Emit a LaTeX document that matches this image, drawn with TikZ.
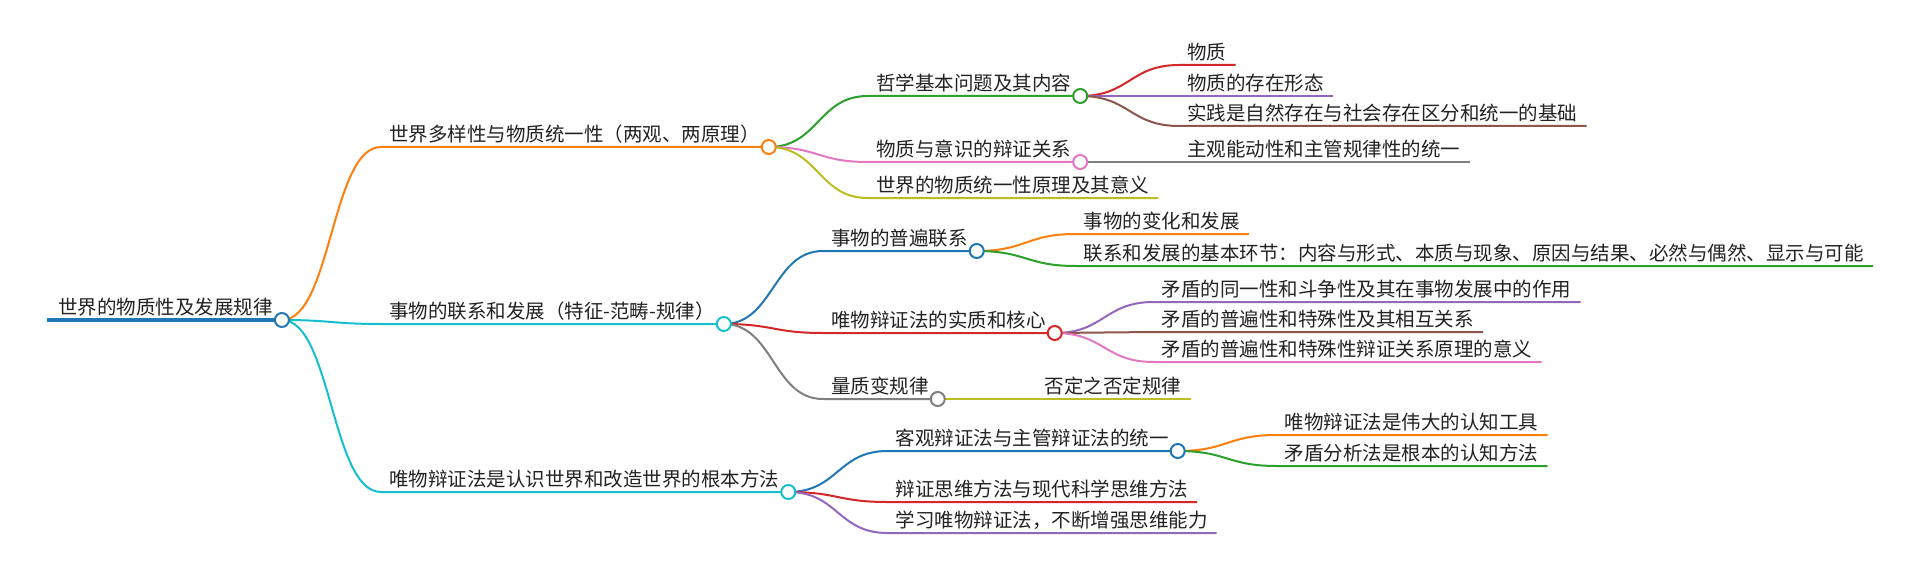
\documentclass[tikz,border=0pt]{standalone}
\usepackage{fontspec}
\setmainfont{Noto Sans CJK SC}
\usepackage{xcolor}
\usetikzlibrary{calc}
\definecolor{mmBlue}{HTML}{1F77B4}
\definecolor{mmOrange}{HTML}{FF7F0E}
\definecolor{mmGreen}{HTML}{2CA02C}
\definecolor{mmRed}{HTML}{D62728}
\definecolor{mmPurple}{HTML}{9467BD}
\definecolor{mmBrown}{HTML}{8C564B}
\definecolor{mmPink}{HTML}{E377C2}
\definecolor{mmGray}{HTML}{7F7F7F}
\definecolor{mmOlive}{HTML}{BCBD22}
\definecolor{mmCyan}{HTML}{17BECF}
\definecolor{mmText}{HTML}{222222}
\tikzset{
  branch/.style={draw=#1, line width=2pt},
  trunk/.style={draw=#1, line width=4.5pt},
  topic/.style={anchor=base west, inner sep=0pt, text=mmText,
    font=\fontsize{19.5}{22}\selectfont},
  knob/.style={circle, draw=#1, fill=white, line width=2pt,
    minimum size=14pt, inner sep=0pt}
}

\begin{document}
\begin{tikzpicture}[x=1pt, y=-1pt]
  \useasboundingbox (0,0) rectangle (1920,575);

  \coordinate (a0) at (47,320);
  \node[topic] (t0) at (58,314.5) {世界的物质性及发展规律};
  \coordinate (p0) at ($(t0.base east |- a0)+(9,0)$);

  \coordinate (a1) at ($(p0 |- 0,147)+(99,0)$);
  \node[topic] (t1) at ($(a1)+(8,-5.5)$) {世界多样性与物质统一性（两观、两原理）};
  \coordinate (p1) at ($(t1.base east |- a1)+(9,0)$);

  \coordinate (a2) at ($(p1 |- 0,96)+(99,0)$);
  \node[topic] (t2) at ($(a2)+(8,-5.5)$) {哲学基本问题及其内容};
  \coordinate (p2) at ($(t2.base east |- a2)+(9,0)$);

  \coordinate (a3) at ($(p2 |- 0,65)+(99,0)$);
  \node[topic] (t3) at ($(a3)+(8,-5.5)$) {物质};
  \coordinate (p3) at ($(t3.base east |- a3)+(9,0)$);

  \coordinate (a4) at ($(p2 |- 0,96)+(99,0)$);
  \node[topic] (t4) at ($(a4)+(8,-5.5)$) {物质的存在形态};
  \coordinate (p4) at ($(t4.base east |- a4)+(9,0)$);

  \coordinate (a5) at ($(p2 |- 0,126)+(99,0)$);
  \node[topic] (t5) at ($(a5)+(8,-5.5)$) {实践是自然存在与社会存在区分和统一的基础};
  \coordinate (p5) at ($(t5.base east |- a5)+(9,0)$);

  \coordinate (a6) at ($(p1 |- 0,162)+(99,0)$);
  \node[topic] (t6) at ($(a6)+(8,-5.5)$) {物质与意识的辩证关系};
  \coordinate (p6) at ($(t6.base east |- a6)+(9,0)$);

  \coordinate (a7) at ($(p6 |- 0,162)+(99,0)$);
  \node[topic] (t7) at ($(a7)+(8,-5.5)$) {主观能动性和主管规律性的统一};
  \coordinate (p7) at ($(t7.base east |- a7)+(9,0)$);

  \coordinate (a8) at ($(p1 |- 0,198)+(99,0)$);
  \node[topic] (t8) at ($(a8)+(8,-5.5)$) {世界的物质统一性原理及其意义};
  \coordinate (p8) at ($(t8.base east |- a8)+(9,0)$);

  \coordinate (a9) at ($(p0 |- 0,324)+(99,0)$);
  \node[topic] (t9) at ($(a9)+(8,-5.5)$) {事物的联系和发展（特征-范畴-规律）};
  \coordinate (p9) at ($(t9.base east |- a9)+(9,0)$);

  \coordinate (a10) at ($(p9 |- 0,251)+(99,0)$);
  \node[topic] (t10) at ($(a10)+(8,-5.5)$) {事物的普遍联系};
  \coordinate (p10) at ($(t10.base east |- a10)+(9,0)$);

  \coordinate (a11) at ($(p10 |- 0,234)+(99,0)$);
  \node[topic] (t11) at ($(a11)+(8,-5.5)$) {事物的变化和发展};
  \coordinate (p11) at ($(t11.base east |- a11)+(9,0)$);

  \coordinate (a12) at ($(p10 |- 0,266)+(99,0)$);
  \node[topic] (t12) at ($(a12)+(8,-5.5)$) {联系和发展的基本环节：内容与形式、本质与现象、原因与结果、必然与偶然、显示与可能};
  \coordinate (p12) at ($(t12.base east |- a12)+(9,0)$);

  \coordinate (a13) at ($(p9 |- 0,333)+(99,0)$);
  \node[topic] (t13) at ($(a13)+(8,-5.5)$) {唯物辩证法的实质和核心};
  \coordinate (p13) at ($(t13.base east |- a13)+(9,0)$);

  \coordinate (a14) at ($(p13 |- 0,302)+(99,0)$);
  \node[topic] (t14) at ($(a14)+(8,-5.5)$) {矛盾的同一性和斗争性及其在事物发展中的作用};
  \coordinate (p14) at ($(t14.base east |- a14)+(9,0)$);

  \coordinate (a15) at ($(p13 |- 0,332)+(99,0)$);
  \node[topic] (t15) at ($(a15)+(8,-5.5)$) {矛盾的普遍性和特殊性及其相互关系};
  \coordinate (p15) at ($(t15.base east |- a15)+(9,0)$);

  \coordinate (a16) at ($(p13 |- 0,362)+(99,0)$);
  \node[topic] (t16) at ($(a16)+(8,-5.5)$) {矛盾的普遍性和特殊性辩证关系原理的意义};
  \coordinate (p16) at ($(t16.base east |- a16)+(9,0)$);

  \coordinate (a17) at ($(p9 |- 0,399)+(99,0)$);
  \node[topic] (t17) at ($(a17)+(8,-5.5)$) {量质变规律};
  \coordinate (p17) at ($(t17.base east |- a17)+(9,0)$);

  \coordinate (a18) at ($(p17 |- 0,399)+(99,0)$);
  \node[topic] (t18) at ($(a18)+(8,-5.5)$) {否定之否定规律};
  \coordinate (p18) at ($(t18.base east |- a18)+(9,0)$);

  \coordinate (a19) at ($(p0 |- 0,492)+(99,0)$);
  \node[topic] (t19) at ($(a19)+(8,-5.5)$) {唯物辩证法是认识世界和改造世界的根本方法};
  \coordinate (p19) at ($(t19.base east |- a19)+(9,0)$);

  \coordinate (a20) at ($(p19 |- 0,451)+(99,0)$);
  \node[topic] (t20) at ($(a20)+(8,-5.5)$) {客观辩证法与主管辩证法的统一};
  \coordinate (p20) at ($(t20.base east |- a20)+(9,0)$);

  \coordinate (a21) at ($(p20 |- 0,435)+(99,0)$);
  \node[topic] (t21) at ($(a21)+(8,-5.5)$) {唯物辩证法是伟大的认知工具};
  \coordinate (p21) at ($(t21.base east |- a21)+(9,0)$);

  \coordinate (a22) at ($(p20 |- 0,466)+(99,0)$);
  \node[topic] (t22) at ($(a22)+(8,-5.5)$) {矛盾分析法是根本的认知方法};
  \coordinate (p22) at ($(t22.base east |- a22)+(9,0)$);

  \coordinate (a23) at ($(p19 |- 0,502)+(99,0)$);
  \node[topic] (t23) at ($(a23)+(8,-5.5)$) {辩证思维方法与现代科学思维方法};
  \coordinate (p23) at ($(t23.base east |- a23)+(9,0)$);

  \coordinate (a24) at ($(p19 |- 0,533)+(99,0)$);
  \node[topic] (t24) at ($(a24)+(8,-5.5)$) {学习唯物辩证法，不断增强思维能力};
  \coordinate (p24) at ($(t24.base east |- a24)+(9,0)$);

  \draw[trunk=mmBlue] (a0) -- (p0);
  \draw[branch=mmOrange] (p0) .. controls +(49.5,0) and +(-49.5,0) .. (a1) -- (p1);
  \draw[branch=mmGreen] (p1) .. controls +(49.5,0) and +(-49.5,0) .. (a2) -- (p2);
  \draw[branch=mmRed] (p2) .. controls +(49.5,0) and +(-49.5,0) .. (a3) -- (p3);
  \draw[branch=mmPurple] (p2) .. controls +(49.5,0) and +(-49.5,0) .. (a4) -- (p4);
  \draw[branch=mmBrown] (p2) .. controls +(49.5,0) and +(-49.5,0) .. (a5) -- (p5);
  \draw[branch=mmPink] (p1) .. controls +(49.5,0) and +(-49.5,0) .. (a6) -- (p6);
  \draw[branch=mmGray] (p6) .. controls +(49.5,0) and +(-49.5,0) .. (a7) -- (p7);
  \draw[branch=mmOlive] (p1) .. controls +(49.5,0) and +(-49.5,0) .. (a8) -- (p8);
  \draw[branch=mmCyan] (p0) .. controls +(49.5,0) and +(-49.5,0) .. (a9) -- (p9);
  \draw[branch=mmBlue] (p9) .. controls +(49.5,0) and +(-49.5,0) .. (a10) -- (p10);
  \draw[branch=mmOrange] (p10) .. controls +(49.5,0) and +(-49.5,0) .. (a11) -- (p11);
  \draw[branch=mmGreen] (p10) .. controls +(49.5,0) and +(-49.5,0) .. (a12) -- (p12);
  \draw[branch=mmRed] (p9) .. controls +(49.5,0) and +(-49.5,0) .. (a13) -- (p13);
  \draw[branch=mmPurple] (p13) .. controls +(49.5,0) and +(-49.5,0) .. (a14) -- (p14);
  \draw[branch=mmBrown] (p13) .. controls +(49.5,0) and +(-49.5,0) .. (a15) -- (p15);
  \draw[branch=mmPink] (p13) .. controls +(49.5,0) and +(-49.5,0) .. (a16) -- (p16);
  \draw[branch=mmGray] (p9) .. controls +(49.5,0) and +(-49.5,0) .. (a17) -- (p17);
  \draw[branch=mmOlive] (p17) .. controls +(49.5,0) and +(-49.5,0) .. (a18) -- (p18);
  \draw[branch=mmCyan] (p0) .. controls +(49.5,0) and +(-49.5,0) .. (a19) -- (p19);
  \draw[branch=mmBlue] (p19) .. controls +(49.5,0) and +(-49.5,0) .. (a20) -- (p20);
  \draw[branch=mmOrange] (p20) .. controls +(49.5,0) and +(-49.5,0) .. (a21) -- (p21);
  \draw[branch=mmGreen] (p20) .. controls +(49.5,0) and +(-49.5,0) .. (a22) -- (p22);
  \draw[branch=mmRed] (p19) .. controls +(49.5,0) and +(-49.5,0) .. (a23) -- (p23);
  \draw[branch=mmPurple] (p19) .. controls +(49.5,0) and +(-49.5,0) .. (a24) -- (p24);

  \node[knob=mmBlue] (k0) at (p0) {};
  \node[knob=mmOrange] (k1) at (p1) {};
  \node[knob=mmGreen] (k2) at (p2) {};
  \node[knob=mmPink] (k6) at (p6) {};
  \node[knob=mmCyan] (k9) at (p9) {};
  \node[knob=mmBlue] (k10) at (p10) {};
  \node[knob=mmRed] (k13) at (p13) {};
  \node[knob=mmGray] (k17) at (p17) {};
  \node[knob=mmCyan] (k19) at (p19) {};
  \node[knob=mmBlue] (k20) at (p20) {};
\end{tikzpicture}
\end{document}
